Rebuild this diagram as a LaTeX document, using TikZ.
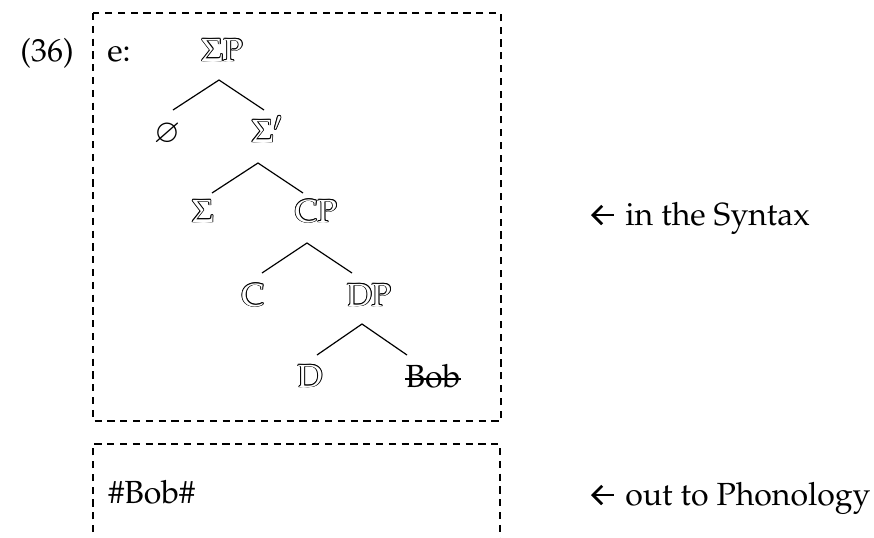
\documentclass[tikz,border=0pt]{standalone}
\usepackage[T1]{fontenc}
\usepackage{mathpazo}
\usepackage{amsmath,amssymb}
\usetikzlibrary{arrows.meta}
\newlength\holw
\setlength\holw{0.45pt}
% outline letters: black copies round a white copy
\newcommand{\hollow}[1]{\leavevmode\hbox{%
  \rlap{\kern\holw#1}\rlap{\kern-\holw#1}%
  \rlap{\raisebox{\holw}{#1}}\rlap{\raisebox{-\holw}{#1}}%
  \rlap{\kern.7\holw\raisebox{.7\holw}{#1}}\rlap{\kern-.7\holw\raisebox{.7\holw}{#1}}%
  \rlap{\kern.7\holw\raisebox{-.7\holw}{#1}}\rlap{\kern-.7\holw\raisebox{-.7\holw}{#1}}%
  {\color{white}#1}}}
\tikzset{
  cat/.style={anchor=base,inner sep=0pt},
  branch/.style={line width=0.6pt},
  pointer/.style={line width=1.35pt,{Straight Barb[length=4.6pt,width=9.2pt]}-},
  phasebox/.style={line width=0.9pt,dash pattern=on 3.6pt off 2.8pt}
}

\begin{document}
\begin{tikzpicture}[x=0.5pt,y=-0.5pt,font=\fontsize{16}{19}\selectfont]
  \useasboundingbox (0,0) rectangle (874,537);
  % boxes
  \draw[phasebox] (93,13) rectangle (501,421);
  \draw[phasebox] (93,545) -- (93,444) -- (500,444) -- (500,545);
  % labels
  \node[cat,anchor=base west] (num) at (20,61) {(36)};
  \node[cat,anchor=base west] (ex) at (107,61) {e:};
  % tree
  \node[cat] (sp) at (222,61) {\hollow{$\Sigma$P}};
  \node[cat] (null) at (167,142) {$\varnothing$};
  \node[cat] (sbar) at (267,142) {\hollow{$\Sigma'$}};
  \node[cat] (sig) at (203,222) {\hollow{$\Sigma$}};
  \node[cat] (cp) at (316,222) {\hollow{CP}};
  \node[cat] (c) at (253,306) {\hollow{C}};
  \node[cat] (dp) at (369,306) {\hollow{DP}};
  \node[cat] (d) at (310,387) {\hollow{D}};
  \node[cat] (bob) at (433,387) {Bob};
  \draw[branch] ([yshift=4pt]bob.base west) -- ([yshift=4pt]bob.base east);
  \coordinate (sp-dn) at (219,80);
  \coordinate (null-up) at (173,110);
  \coordinate (sbar-up) at (264,110);
  \coordinate (sbar-dn) at (258,163);
  \coordinate (sig-up) at (212,193);
  \coordinate (cp-up) at (303,193);
  \coordinate (cp-dn) at (307,243);
  \coordinate (c-up) at (262,273);
  \coordinate (dp-up) at (352,273);
  \coordinate (dp-dn) at (362,324);
  \coordinate (d-up) at (317,355);
  \coordinate (bob-up) at (407,355);
  \draw[branch] (null-up) -- (sp-dn) -- (sbar-up);
  \draw[branch] (sig-up) -- (sbar-dn) -- (cp-up);
  \draw[branch] (c-up) -- (cp-dn) -- (dp-up);
  \draw[branch] (d-up) -- (dp-dn) -- (bob-up);
  % spell-out
  \node[cat,anchor=base west] (pf) at (108,503) {\#Bob\#};
  \node[cat,anchor=base west] (syn) at (625,225) {in the Syntax};
  \node[cat,anchor=base west] (phon) at (625,505) {out to Phonology};
  \draw[pointer] ([shift={(-34,-10)}]syn.base west) -- ([shift={(-11,-10)}]syn.base west);
  \draw[pointer] ([shift={(-34,-10)}]phon.base west) -- ([shift={(-11,-10)}]phon.base west);
\end{tikzpicture}
\end{document}
